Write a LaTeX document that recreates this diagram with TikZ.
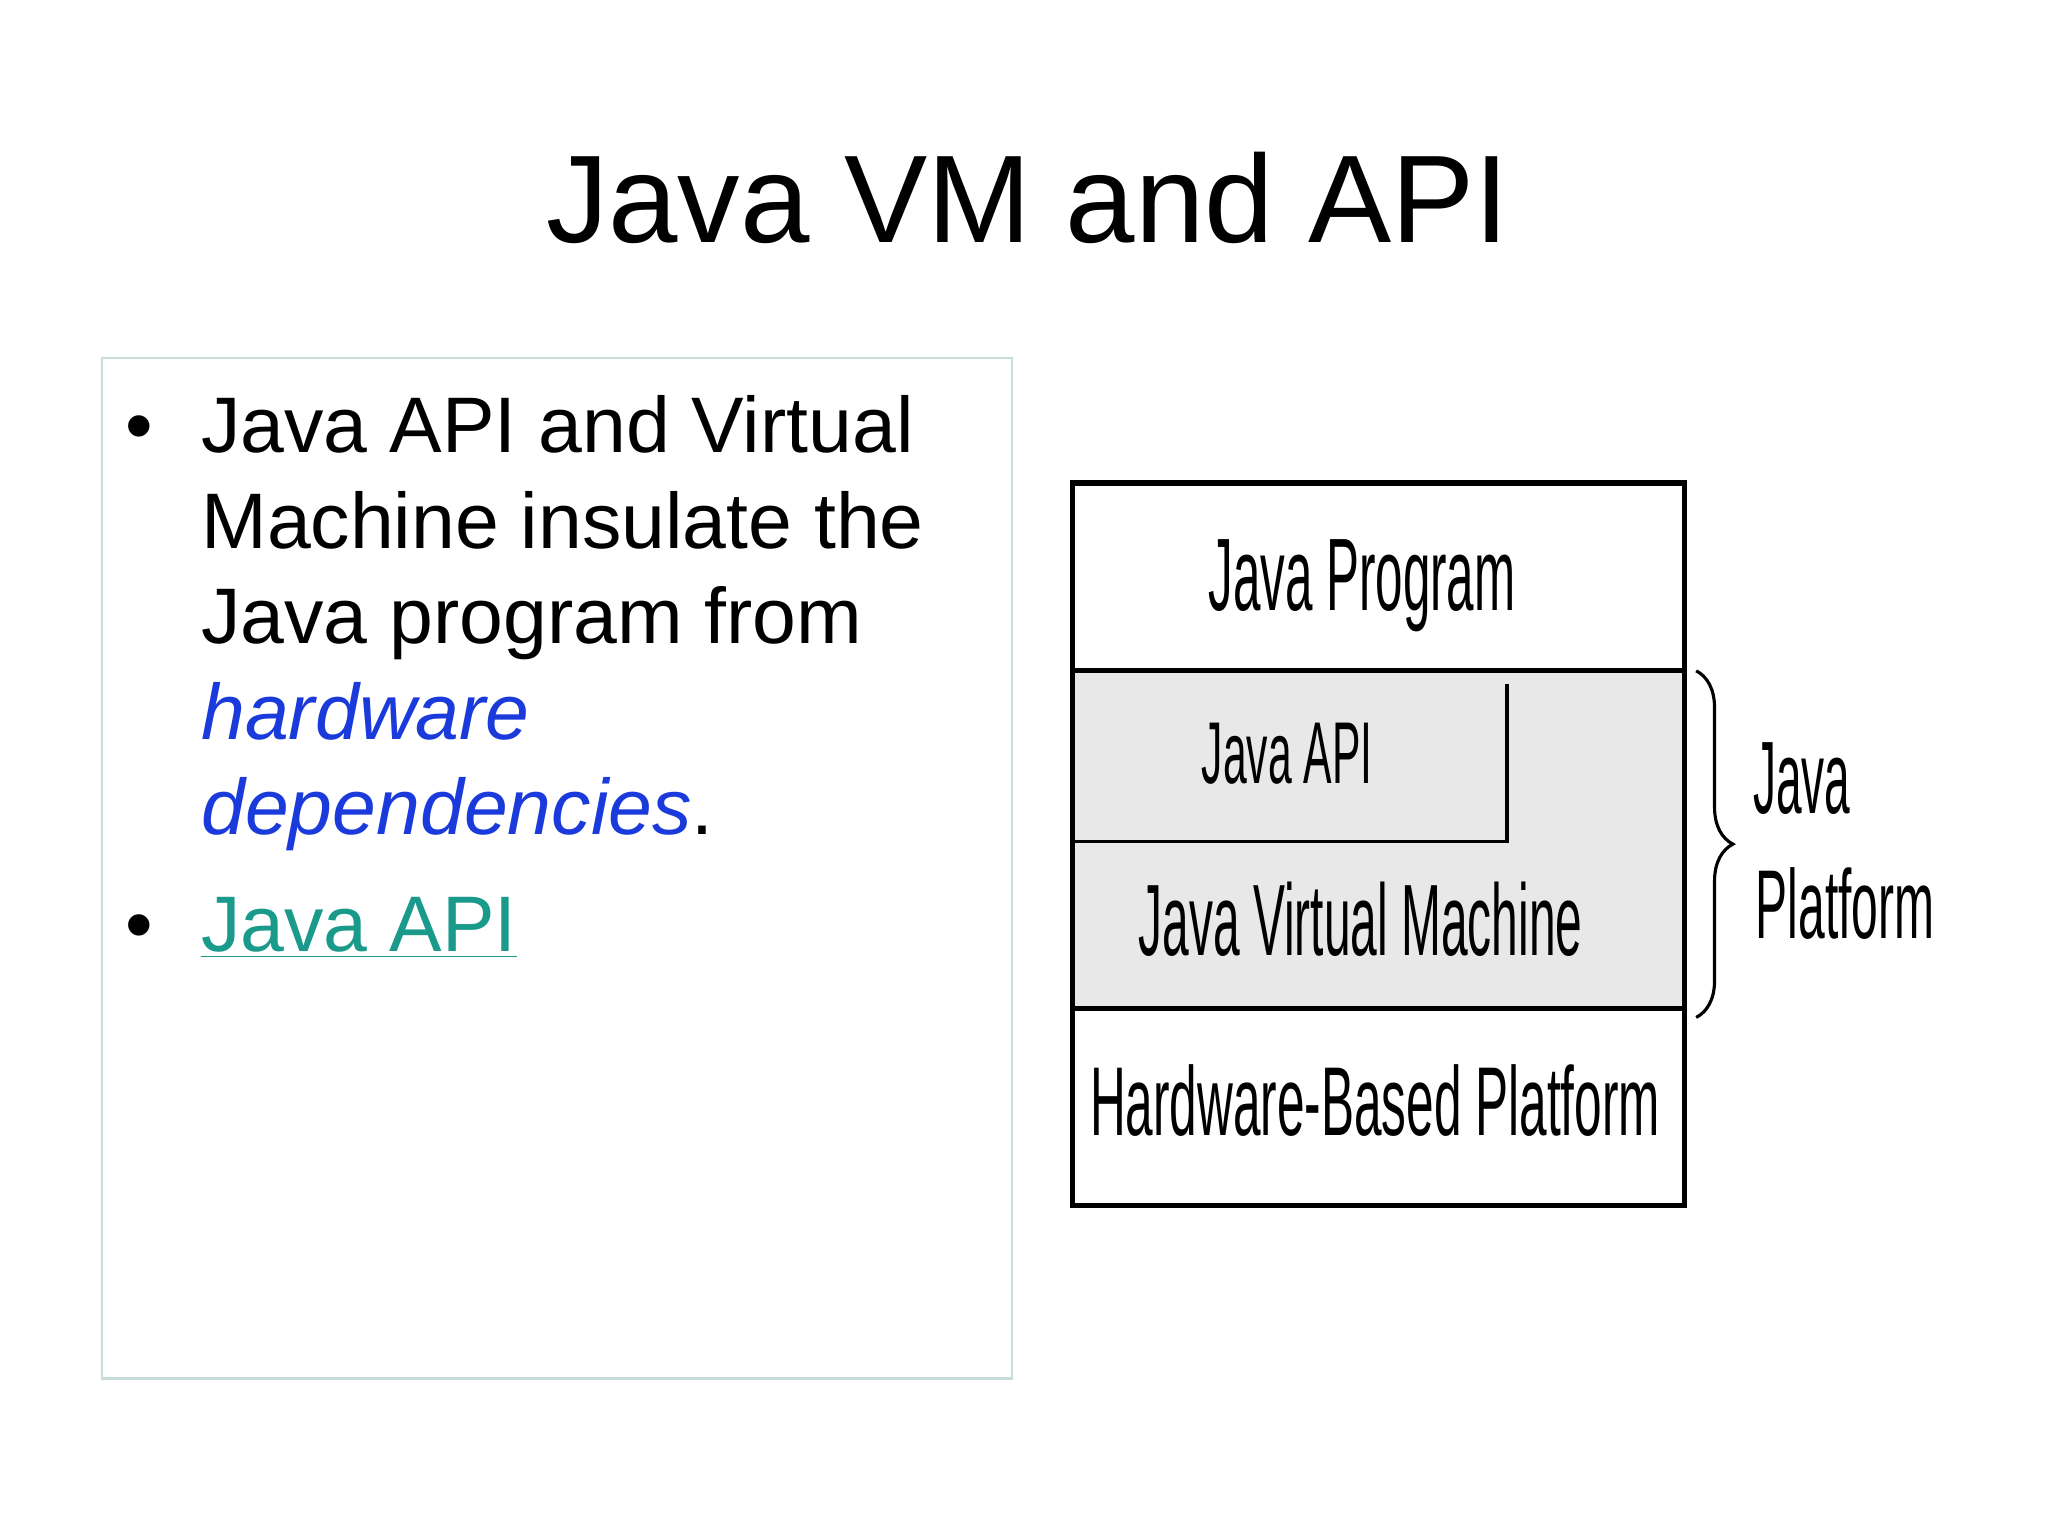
\documentclass[tikz,border=0pt]{standalone}
\usepackage{fontspec}
\setmainfont{Liberation Sans}
\usetikzlibrary{decorations.pathreplacing}
\definecolor{hwblue}{HTML}{1A3ADB}
\definecolor{linkteal}{HTML}{1A9A8A}
\definecolor{boxgray}{HTML}{E8E8E8}
\definecolor{frame}{HTML}{C8DCDC}
\newcommand{\cond}[3]{\resizebox{#1pt}{#2pt}{#3}}
\begin{document}
\begin{tikzpicture}[x=0.5pt,y=-0.5pt,
  lbl/.style={anchor=base west,inner sep=0pt},
  txt/.style={anchor=base west,inner sep=0pt,font=\fontsize{30}{36}\selectfont}]
\useasboundingbox[fill=white] (0,0) rectangle (1560,1170);
\node[anchor=base,inner sep=0pt,font=\fontsize{47.5}{52}\selectfont] (title) at (783,185) {Java VM and API};
\draw[frame,line width=0.8pt] (78,273) rectangle (771,1050);
\node[txt] (b1) at (95,345) {\textbullet};
\node[txt] (l1) at (153,345) {Java API and Virtual};
\node[txt] (l2) at (153,418) {Machine insulate the};
\node[txt] (l3) at (153,490) {Java program from};
\node[txt,text=hwblue] (l4) at (153,563) {\itshape hardware};
\node[txt] (l5) at (153,636) {\textcolor{hwblue}{\itshape dependencies}.};
\node[txt] (b2) at (95,725) {\textbullet};
\node[txt,text=linkteal] (l6) at (153,725) {\underline{Java API}};
% diagram
\fill[boxgray] (817,511) rectangle (1283,768);
\draw[line width=2pt] (817,368) rectangle (1283,918);
\draw[line width=2pt] (817,511) -- (1283,511);
\draw[line width=2pt] (817,768) -- (1283,768);
\draw[line width=1.5pt] (817,641) -- (1148,641) -- (1148,521);
\node[lbl] (jp) at (920,465) {\cond{117}{27}{Java Program}};
\node[lbl] (ja) at (915,597) {\cond{65}{23}{Java API}};
\node[lbl] (jvm) at (867,728) {\cond{169}{28}{Java Virtual Machine}};
\node[lbl] (hw) at (830,865) {\cond{217}{27}{Hardware-Based Platform}};
\draw[line width=1.2pt,decorate,decoration={brace,amplitude=14pt}] (1292,511) -- (1292,775);
\node[lbl] (jv) at (1335,620) {\cond{37}{27}{Java}};
\node[lbl] (pf) at (1337,715) {\cond{68}{27}{Platform}};
\end{tikzpicture}
\end{document}
